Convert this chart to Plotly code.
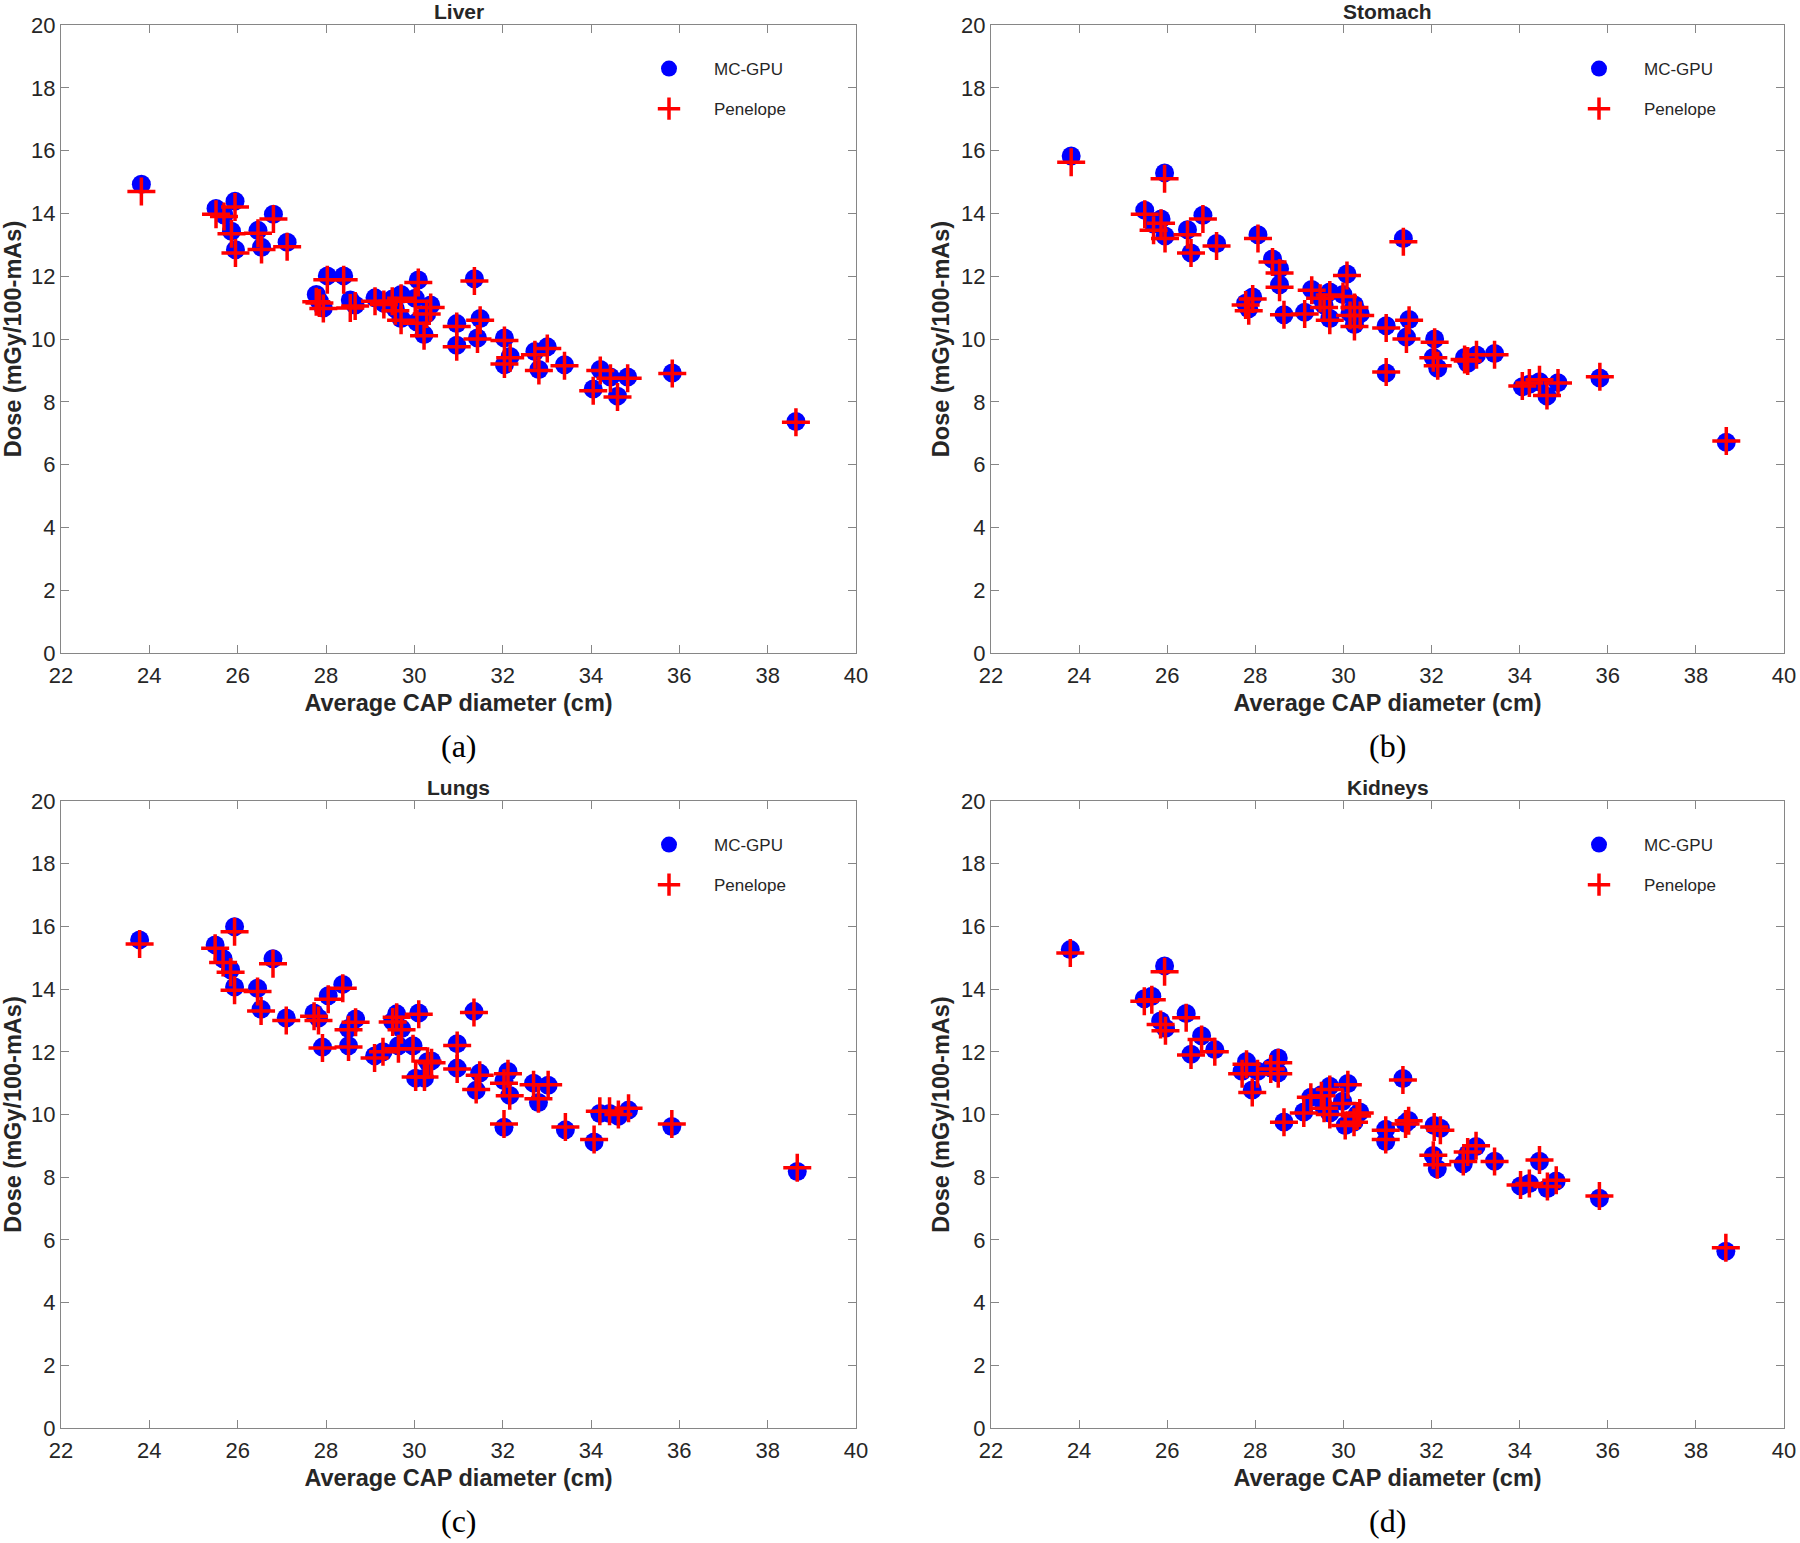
import plotly.graph_objects as go

# ---------------- data ----------------
titles = ["Liver", "Stomach", "Lungs", "Kidneys"]
sub_labels = ["(a)", "(b)", "(c)", "(d)"]
x_ticks = [22, 24, 26, 28, 30, 32, 34, 36, 38, 40]
y_ticks = [0, 2, 4, 6, 8, 10, 12, 14, 16, 18, 20]

x_liver = [23.82, 25.51, 25.69, 25.94, 25.86, 25.95, 26.46, 26.54, 26.81, 27.12, 27.78, 27.85, 27.94,
           28.03, 28.40, 28.55, 28.66, 29.11, 29.31, 29.50, 29.57, 29.70, 29.70, 30.02, 30.06, 30.09,
           30.22, 30.28, 30.37, 30.96, 30.96, 31.36, 31.43, 31.49, 32.04, 32.04, 32.17, 32.73, 32.82,
           33.01, 33.40, 34.05, 34.21, 34.44, 34.60, 34.83, 35.84, 38.64]
mc_liver = [14.93, 14.16, 13.95, 14.39, 13.43, 12.84, 13.46, 12.92, 13.97, 13.08, 11.42, 11.2, 10.99,
            12.01, 12.01, 11.24, 11.08, 11.31, 11.14, 11.27, 10.96, 11.42, 10.65, 11.3, 10.54, 11.88,
            10.14, 10.8, 11.08, 10.49, 9.8, 11.92, 10.03, 10.65, 10.03, 9.18, 9.44, 9.6, 9.03,
            9.75, 9.18, 8.41, 9.03, 8.79, 8.18, 8.79, 8.92, 7.37]
pen_liver = [14.7, 13.97, 13.9, 14.2, 13.35, 12.74, 13.37, 12.85, 13.82, 12.94, 11.19, 11.15, 10.97,
             11.89, 11.89, 10.99, 11.05, 11.2, 11.1, 11.2, 10.9, 11.3, 10.6, 11.2, 10.5, 11.8,
             10.1, 10.8, 11.0, 10.4, 9.75, 11.85, 10.0, 10.6, 9.95, 9.2, 9.4, 9.5, 9.0,
             9.7, 9.15, 8.35, 9.0, 8.75, 8.15, 8.75, 8.9, 7.35]

x_stomach = [23.82, 25.49, 25.69, 25.94, 25.86, 25.95, 26.46, 26.54, 26.81, 27.12, 27.78, 27.85, 27.94,
             28.06, 28.39, 28.55, 28.55, 28.65, 29.12, 29.28, 29.47, 29.56, 29.69, 29.69, 29.99, 30.08,
             30.15, 30.25, 30.25, 30.38, 30.97, 30.97, 31.36, 31.43, 31.49, 32.07, 32.04, 32.14, 32.75,
             32.82, 33.02, 33.43, 34.06, 34.22, 34.45, 34.62, 34.87, 35.82, 38.69]
mc_stomach = [15.83, 14.1, 13.66, 15.29, 13.82, 13.28, 13.48, 12.74, 13.94, 13.04, 11.14, 10.96, 11.34,
              13.32, 12.55, 12.24, 11.73, 10.77, 10.85, 11.58, 11.34, 11.08, 11.5, 10.65, 11.42, 12.07,
              10.83, 11.08, 10.46, 10.8, 10.42, 8.92, 13.2, 10.06, 10.62, 10.0, 9.41, 9.07, 9.41,
              9.23, 9.49, 9.54, 8.48, 8.56, 8.64, 8.18, 8.61, 8.76, 6.71]
pen_stomach = [15.63, 13.97, 13.46, 15.1, 13.69, 13.2, 13.32, 12.74, 13.82, 12.96, 11.08, 10.9, 11.27,
               13.2, 12.45, 12.1, 11.65, 10.77, 10.8, 11.55, 11.3, 11.0, 11.4, 10.6, 11.35, 12.02,
               10.75, 11.0, 10.4, 10.75, 10.35, 8.95, 13.1, 10.0, 10.6, 9.9, 9.4, 9.15, 9.35,
               9.3, 9.5, 9.5, 8.5, 8.6, 8.7, 8.2, 8.6, 8.8, 6.75]

x_lungs = [23.78, 25.49, 25.67, 25.84, 25.93, 25.93, 26.45, 26.53, 26.80, 27.10, 27.73, 27.83, 27.92,
           28.05, 28.38, 28.51, 28.51, 28.67, 29.10, 29.29, 29.51, 29.60, 29.71, 29.64, 29.97, 30.03,
           30.10, 30.23, 30.30, 30.39, 30.97, 30.97, 31.35, 31.40, 31.48, 32.03, 32.03, 32.12, 32.16,
           32.70, 32.81, 33.03, 33.42, 34.07, 34.20, 34.42, 34.62, 34.85, 35.83, 38.67]
mc_lungs = [15.57, 15.41, 14.97, 14.62, 15.99, 14.07, 14.03, 13.36, 14.97, 13.08, 13.24, 13.08, 12.15,
            13.79, 14.15, 12.74, 12.19, 13.05, 11.87, 12.0, 12.97, 13.21, 12.74, 12.19, 12.19, 11.16,
            13.24, 11.16, 11.68, 11.71, 12.26, 11.48, 13.29, 10.77, 11.32, 11.08, 9.59, 11.37, 10.61,
            11.0, 10.38, 10.93, 9.51, 9.12, 10.03, 10.03, 9.94, 10.14, 9.62, 8.18]
pen_lungs = [15.44, 15.3, 14.85, 14.54, 15.83, 13.96, 13.92, 13.3, 14.81, 13.0, 13.13, 13.0, 12.12,
             13.68, 14.03, 12.7, 12.15, 12.94, 11.8, 12.0, 12.95, 13.1, 12.7, 12.1, 12.1, 11.2,
             13.2, 11.2, 11.7, 11.65, 12.2, 11.45, 13.25, 10.8, 11.25, 11.0, 9.7, 11.3, 10.6,
             10.95, 10.5, 10.95, 9.6, 9.2, 10.1, 10.1, 10.0, 10.2, 9.7, 8.3]

x_kidneys = [23.80, 25.48, 25.65, 25.85, 25.94, 25.96, 26.43, 26.54, 26.78, 27.08, 27.70, 27.80, 27.93,
             28.05, 28.35, 28.52, 28.52, 28.65, 29.10, 29.26, 29.50, 29.56, 29.69, 29.69, 29.98, 30.04,
             30.10, 30.24, 30.31, 30.37, 30.96, 30.96, 31.35, 31.41, 31.48, 32.04, 32.06, 32.13, 32.20,
             32.72, 32.82, 33.01, 33.43, 34.02, 34.22, 34.45, 34.63, 34.83, 35.81, 38.68]
mc_kidneys = [15.26, 13.69, 13.77, 12.98, 14.74, 12.75, 13.22, 11.92, 12.51, 12.07, 11.38, 11.69, 10.78,
              11.38, 11.49, 11.8, 11.33, 9.76, 10.08, 10.55, 10.63, 10.24, 10.9, 10.05, 10.42, 9.65,
              10.99, 9.76, 10.0, 10.08, 9.53, 9.14, 11.15, 9.72, 9.81, 8.69, 9.65, 8.27, 9.56,
              8.43, 8.74, 8.98, 8.51, 7.72, 7.8, 8.51, 7.64, 7.88, 7.33, 5.64]
pen_kidneys = [15.15, 13.61, 13.66, 12.87, 14.55, 12.67, 13.09, 11.9, 12.39, 12.0, 11.3, 11.6, 10.7,
               11.3, 11.45, 11.65, 11.3, 9.75, 10.05, 10.55, 10.6, 10.2, 10.8, 10.0, 10.35, 9.65,
               10.95, 9.75, 9.95, 10.05, 9.5, 9.2, 11.1, 9.7, 9.8, 8.7, 9.6, 8.4, 9.5,
               8.5, 8.8, 9.0, 8.5, 7.75, 7.8, 8.55, 7.7, 7.9, 7.4, 5.75]

panels = [
    (x_liver, mc_liver, pen_liver),
    (x_stomach, mc_stomach, pen_stomach),
    (x_lungs, mc_lungs, pen_lungs),
    (x_kidneys, mc_kidneys, pen_kidneys),
]

# ---------------- layout geometry ----------------
W, H = 1800, 1543
col_px = [(61, 856), (991, 1784)]
row_px = [(25, 653), (801, 1428)]

SANS = "Liberation Sans, Arial, Helvetica, sans-serif"
AXIS_COLOR = "#868686"
TEXT_COLOR = "#262626"

fig = go.Figure()
layout = dict(
    width=W, height=H,
    margin=dict(l=0, r=0, t=0, b=0, autoexpand=False),
    paper_bgcolor="white", plot_bgcolor="white",
    font=dict(family=SANS, color=TEXT_COLOR),
    showlegend=True,
)
annotations = []

for i, (xs, mc, pen) in enumerate(panels):
    r, c = divmod(i, 2)
    x0, x1 = col_px[c]
    y0, y1 = row_px[r]
    sfx = "" if i == 0 else str(i + 1)
    xa, ya = "x" + sfx, "y" + sfx
    lg = "legend" if i == 0 else "legend" + str(i + 1)

    fig.add_trace(go.Scatter(
        x=xs, y=mc, mode="markers", name="MC-GPU", xaxis=xa, yaxis=ya, legend=lg,
        legendgroup=f"mc{i}",
        marker=dict(symbol="circle", size=19, color="#0000FF", line=dict(width=0)),
    ))
    fig.add_trace(go.Scatter(
        x=xs, y=pen, mode="markers", name="Penelope", xaxis=xa, yaxis=ya, legend=lg,
        legendgroup=f"pen{i}",
        marker=dict(symbol="cross-thin", size=20, color="#FF0000",
                    line=dict(width=3.5, color="#FF0000")),
    ))

    common = dict(
        showline=True, linecolor=AXIS_COLOR, linewidth=1.2, mirror="ticks",
        ticks="inside", ticklen=8, tickwidth=1.2, tickcolor=AXIS_COLOR,
        showgrid=False, zeroline=False, automargin=False,
        tickfont=dict(family=SANS, size=22, color=TEXT_COLOR),
    )
    layout["xaxis" + sfx] = dict(
        common, domain=[x0 / W, x1 / W], anchor=ya, range=[22, 40],
        tickvals=x_ticks, ticktext=[str(v) for v in x_ticks], ticklabelstandoff=2,
        title=dict(text="<b>Average CAP diameter (cm)</b>", standoff=8,
                   font=dict(family=SANS, size=23.5, color=TEXT_COLOR)),
    )
    layout["yaxis" + sfx] = dict(
        common, domain=[1 - y1 / H, 1 - y0 / H], anchor=xa, range=[0, 20],
        tickvals=y_ticks, ticktext=[str(v) for v in y_ticks],
        title=dict(text="<b>Dose (mGy/100-mAs)</b>", standoff=4,
                   font=dict(family=SANS, size=23.5, color=TEXT_COLOR)),
    )
    layout[lg] = dict(
        x=(x0 + 563) / W, y=1 - (y0 + 26) / H, xanchor="left", yanchor="top",
        bgcolor="rgba(0,0,0,0)", borderwidth=0, itemwidth=80,
        font=dict(family=SANS, size=17, color=TEXT_COLOR),
        traceorder="grouped", tracegroupgap=15,
    )
    annotations.append(dict(
        text=f"<b>{titles[i]}</b>", xref="paper", yref="paper",
        x=(x0 + x1) / 2 / W, y=1 - (y0 - 1) / H, xanchor="center", yanchor="bottom",
        showarrow=False, font=dict(family=SANS, size=21, color=TEXT_COLOR),
        borderpad=0,
    ))
    annotations.append(dict(
        text=sub_labels[i], xref="paper", yref="paper",
        x=(x0 + x1) / 2 / W, y=1 - (y1 + 93) / H, xanchor="center", yanchor="middle",
        showarrow=False, font=dict(family="Liberation Serif, Times New Roman, serif", size=32, color="black"),
    ))

layout["annotations"] = annotations
fig.update_layout(**layout)
fig.write_html("out.html", config={"displayModeBar": False},
               post_script="document.body.style.margin='0';document.body.style.overflow='hidden';")
